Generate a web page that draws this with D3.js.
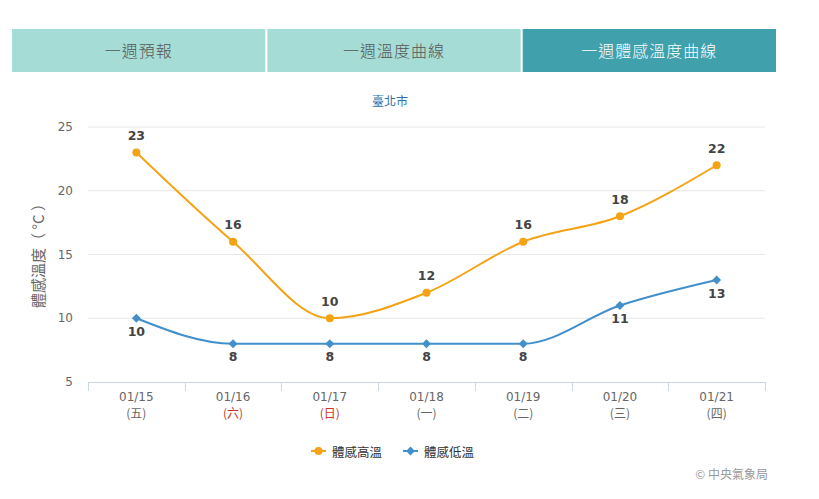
<!DOCTYPE html>
<html>
<head>
<meta charset="utf-8">
<title>一週體感溫度曲線</title>
<script src="https://d3js.org/d3.v7.min.js"></script>
<style>
  body { margin:0; background:#fff; }
  svg { display:block; }
</style>
</head>
<body>
<svg width="819" height="499"></svg>
<script>
// data
const tabs = ['一週預報', '一週溫度曲線', '一週體感溫度曲線'];
const dates = ['01/15', '01/16', '01/17', '01/18', '01/19', '01/20', '01/21'];
const weekdays = ['(五)', '(六)', '(日)', '(一)', '(二)', '(三)', '(四)'];
const weekend = [false, true, true, false, false, false, false];
const highTemps = [23, 16, 10, 12, 16, 18, 22];
const lowTemps = [10, 8, 8, 8, 8, 11, 13];
const yTicks = [5, 10, 15, 20, 25];

const cjk = '"Noto Sans CJK TC", "Noto Sans", sans-serif';
const orange = '#f5a314';
const blue = '#418fcb';

let svg = d3.select('svg');

// tabs
let tabScale = d3.scaleBand().domain(tabs).range([12, 776]).paddingInner(0.008);
let tabG = svg.append('g');
tabG.selectAll('rect')
    .data(tabs)
    .join('rect')
    .attr('x', d => tabScale(d))
    .attr('y', 29)
    .attr('width', tabScale.bandwidth())
    .attr('height', 43)
    .style('fill', (d, i) => i == 2 ? '#40a1ad' : '#a6dcd6');
tabG.selectAll('text')
    .data(tabs)
    .join('text')
    .attr('x', d => tabScale(d) + tabScale.bandwidth() / 2)
    .attr('y', 50)
    .attr('text-anchor', 'middle')
    .attr('dominant-baseline', 'central')
    .style('font-family', cjk)
    .style('font-size', '16px')
    .style('letter-spacing', '1px')
    .style('font-weight', 300)
    .style('fill', (d, i) => i == 2 ? '#fff' : '#555')
    .text(d => d);

// chart title
svg.append('text')
    .attr('x', 390).attr('y', 100)
    .attr('text-anchor', 'middle')
    .attr('dominant-baseline', 'central')
    .style('font-family', cjk)
    .style('font-size', '12px')
    .style('fill', '#2f6fa8')
    .text('臺北市');

// scales
let xScale = d3.scaleBand().domain(dates).range([88, 765]);
let yScale = d3.scaleLinear().domain([5, 25]).range([382, 127]);
let cx = d => xScale(d) + xScale.bandwidth() / 2;

// grid
svg.append('g')
    .selectAll('line')
    .data(yTicks.slice(1))
    .join('line')
    .attr('x1', 88).attr('x2', 765)
    .attr('y1', d => yScale(d)).attr('y2', d => yScale(d))
    .style('stroke', '#e6e6e6');

// y axis labels
svg.append('g')
    .selectAll('text')
    .data(yTicks)
    .join('text')
    .attr('x', 73)
    .attr('y', d => yScale(d))
    .attr('text-anchor', 'end')
    .attr('dominant-baseline', 'central')
    .style('font-family', '"DejaVu Sans", sans-serif')
    .style('font-size', '12px')
    .style('fill', '#666')
    .text(d => d);

svg.append('text')
    .attr('transform', 'translate(37,252) rotate(-90)')
    .attr('text-anchor', 'middle')
    .attr('dominant-baseline', 'central')
    .style('font-family', cjk)
    .style('font-size', '15px')
    .style('fill', '#666')
    .text('體感溫度（ °C ）');

// x axis
let xAxisG = svg.append('g');
xAxisG.append('line')
    .attr('x1', 88).attr('x2', 765)
    .attr('y1', 382.5).attr('y2', 382.5)
    .style('stroke', '#ccd6eb');
xAxisG.selectAll('.tick')
    .data(dates.map(d => xScale(d)).concat([765]))
    .join('line')
    .attr('x1', d => Math.round(d) + 0.5).attr('x2', d => Math.round(d) + 0.5)
    .attr('y1', 382).attr('y2', 391)
    .style('stroke', '#ccd6eb');
xAxisG.selectAll('.date')
    .data(dates)
    .join('text')
    .attr('x', d => cx(d))
    .attr('y', 397)
    .attr('text-anchor', 'middle')
    .attr('dominant-baseline', 'central')
    .style('font-family', '"DejaVu Sans", sans-serif')
    .style('font-size', '12px')
    .style('fill', '#666')
    .text(d => d);
xAxisG.selectAll('.wd')
    .data(weekdays)
    .join('text')
    .attr('x', (d, i) => cx(dates[i]))
    .attr('y', 412)
    .attr('text-anchor', 'middle')
    .attr('dominant-baseline', 'central')
    .style('font-family', cjk)
    .style('font-size', '12px')
    .style('fill', (d, i) => weekend[i] ? '#c0392b' : '#666')
    .text(d => d);

// lines
let line = d3.line()
    .x((d, i) => cx(dates[i]))
    .y(d => yScale(d))
    .curve(d3.curveMonotoneX);

svg.append('path')
    .attr('d', line(lowTemps))
    .style('fill', 'none')
    .style('stroke', blue)
    .style('stroke-width', 2);
svg.append('path')
    .attr('d', line(highTemps))
    .style('fill', 'none')
    .style('stroke', orange)
    .style('stroke-width', 2);

let diamond = d3.symbol().type(d3.symbolDiamond2).size(50);

svg.append('g')
    .selectAll('path')
    .data(lowTemps)
    .join('path')
    .attr('d', diamond)
    .attr('transform', (d, i) => `translate(${cx(dates[i])},${yScale(d)})`)
    .style('fill', blue);
svg.append('g')
    .selectAll('circle')
    .data(highTemps)
    .join('circle')
    .attr('cx', (d, i) => cx(dates[i]))
    .attr('cy', d => yScale(d))
    .attr('r', 4)
    .style('fill', orange);

// data labels
let labelStyle = sel => sel
    .attr('text-anchor', 'middle')
    .attr('dominant-baseline', 'central')
    .style('font-family', '"DejaVu Sans", sans-serif')
    .style('font-size', '12.5px')
    .style('font-weight', 'bold')
    .style('fill', '#444');

svg.append('g')
    .selectAll('text')
    .data(highTemps)
    .join('text')
    .attr('x', (d, i) => cx(dates[i]))
    .attr('y', d => yScale(d) - 17)
    .call(labelStyle)
    .text(d => d);
svg.append('g')
    .selectAll('text')
    .data(lowTemps)
    .join('text')
    .attr('x', (d, i) => cx(dates[i]))
    .attr('y', d => yScale(d) + 13)
    .call(labelStyle)
    .text(d => d);

// legend
let legend = [
    { name: '體感高溫', color: orange, x: 311, shape: 'circle' },
    { name: '體感低溫', color: blue, x: 403, shape: 'diamond' }
];
let legG = svg.append('g');
legend.forEach(l => {
    legG.append('line')
        .attr('x1', l.x).attr('x2', l.x + 15)
        .attr('y1', 451).attr('y2', 451)
        .style('stroke', l.color)
        .style('stroke-width', 2);
    if (l.shape == 'circle') {
        legG.append('circle').attr('cx', l.x + 7.5).attr('cy', 451).attr('r', 4).style('fill', l.color);
    } else {
        legG.append('path').attr('d', diamond).attr('transform', `translate(${l.x + 7.5},451)`).style('fill', l.color);
    }
    legG.append('text')
        .attr('x', l.x + 21)
        .attr('y', 451)
        .attr('dominant-baseline', 'central')
        .style('font-family', cjk)
        .style('font-size', '12.5px')
        .style('fill', '#333')
        .text(l.name);
});

// credit
svg.append('text')
    .attr('x', 768).attr('y', 473)
    .attr('text-anchor', 'end')
    .attr('dominant-baseline', 'central')
    .style('font-family', cjk)
    .style('font-size', '12px')
    .style('fill', '#999')
    .text('© 中央氣象局');
</script>
</body>
</html>
